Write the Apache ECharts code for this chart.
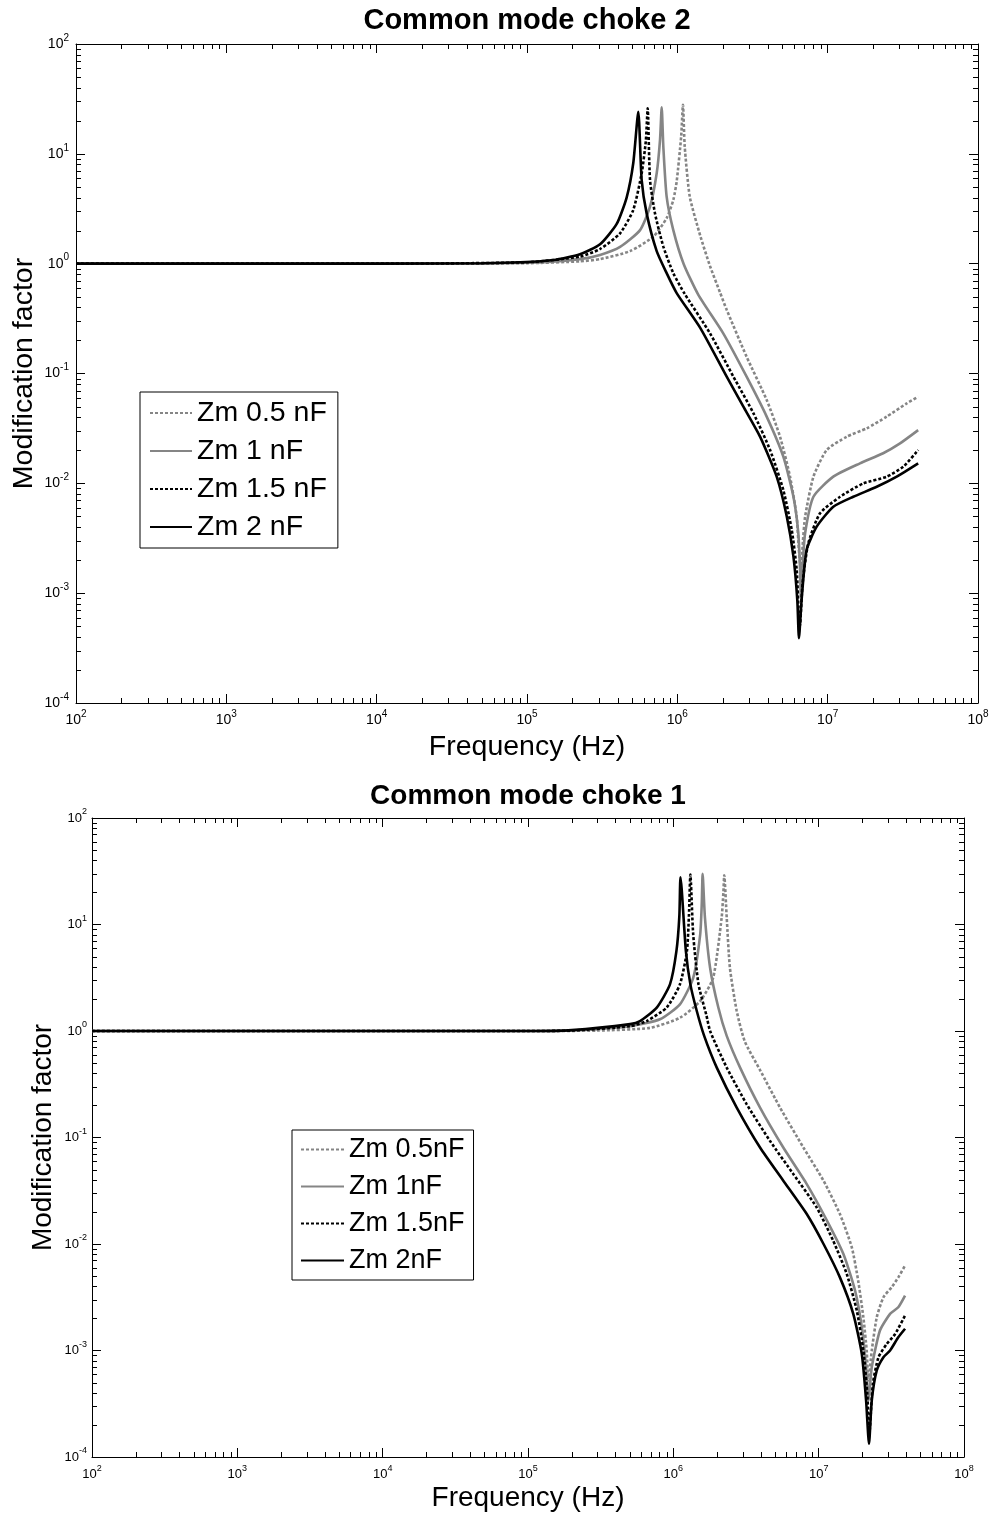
<!DOCTYPE html>
<html><head><meta charset="utf-8">
<script src="https://cdn.jsdelivr.net/npm/echarts@6/dist/echarts.min.js"></script>
<style>html,body{margin:0;padding:0;background:#fff}#c{width:992px;height:1516px}</style>
</head><body><div id="c"></div>
<script>
// ---------- DATA ----------
const titleTop = 'Common mode choke 2';
const titleBottom = 'Common mode choke 1';
const namesTop = ['Zm 0.5 nF', 'Zm 1 nF', 'Zm 1.5 nF', 'Zm 2 nF'];
const namesBottom = ['Zm 0.5nF', 'Zm 1nF', 'Zm 1.5nF', 'Zm 2nF'];
const xLabel = 'Frequency (Hz)';
const yLabel = 'Modification factor';

// Common mode choke 2 : [frequency Hz, modification factor]
const top05 = [[1e2,1],[1e3,1],[1e4,1],[1e5,1.01],[2.25e5,1.05],[3.06e5,1.1],[4.84e5,1.3],[6.92e5,1.76],[8.49e5,2.6],[9.4e5,3.8],[9.9e5,5.6],[1.06e6,14.3],[1.09e6,28],[1.12e6,11.6],[1.21e6,4.07],[1.42e6,1.8],[1.65e6,0.95],[1.92e6,0.55],[2.13e6,0.38],[2.89e6,0.142],[3.93e6,0.0574],[4.82e6,0.0266],[5.62e6,0.0115],[6.22e6,0.00497],[6.44e6,0.00247],[6.64e6,0.00163],[6.85e6,0.003],[7.08e6,0.00497],[8.04e6,0.0115],[9.86e6,0.0201],[1.34e7,0.0266],[1.82e7,0.0317],[2.47e7,0.0405],[3.36e7,0.0535],[4.0e7,0.0615]];
const top1 = [[1e2,1],[1e3,1],[1e4,1],[1e5,1.02],[2.25e5,1.1],[3.06e5,1.2],[4.16e5,1.42],[5.65e5,2.02],[6.58e5,3.3],[7.29e5,6.65],[7.67e5,13.4],[7.87e5,26.5],[8.07e5,11.6],[8.49e5,4.07],[9.4e5,2.02],[1.1e6,1.0],[1.38e6,0.52],[2.02e6,0.232],[2.89e6,0.0935],[3.93e6,0.0405],[5.07e6,0.0175],[5.92e6,0.00755],[6.38e6,0.00351],[6.55e6,0.00163],[6.64e6,0.0009],[6.8e6,0.0017],[7.08e6,0.00351],[8.04e6,0.00755],[1.09e7,0.0115],[1.64e7,0.0152],[2.34e7,0.0188],[3.03e7,0.0231],[4.0e7,0.0305]];
const top15 = [[1e2,1],[1e3,1],[1e4,1],[1e5,1.03],[2.25e5,1.16],[3.06e5,1.36],[4.16e5,1.89],[5.09e5,3.08],[5.79e5,6.65],[6.17e5,13],[6.35e5,26],[6.58e5,5.8],[7.1e5,2.87],[8.07e5,1.43],[9.4e5,0.82],[1.12e6,0.53],[1.65e6,0.232],[2.36e6,0.0935],[3.21e6,0.0434],[4.14e6,0.0201],[5.07e6,0.00869],[5.77e6,0.00376],[6.22e6,0.00163],[6.43e6,0.00061],[6.53e6,0.0005],[6.81e6,0.00123],[7.43e6,0.00284],[8.89e6,0.00533],[1.21e7,0.00755],[1.73e7,0.01],[2.47e7,0.0115],[3.19e7,0.0142],[4.0e7,0.0201]];
const top2 = [[1e2,1],[1e3,1],[1e4,1],[5e4,1.01],[9e4,1.03],[1.5e5,1.08],[2.25e5,1.22],[3.06e5,1.5],[3.95e5,2.3],[4.6e5,4.0],[5.09e5,8.2],[5.5e5,24.2],[5.79e5,5.8],[6.25e5,2.87],[7.29e5,1.3],[8.49e5,0.82],[9.9e5,0.54],[1.42e6,0.26],[2.13e6,0.0935],[2.75e6,0.0499],[3.55e6,0.0266],[4.58e6,0.0115],[5.35e6,0.00497],[5.92e6,0.00215],[6.28e6,0.00087],[6.44e6,0.00039],[6.71e6,0.00087],[7.24e6,0.00247],[8.45e6,0.00403],[1.09e7,0.00612],[1.48e7,0.00755],[2.12e7,0.0093],[2.88e7,0.0115],[4.0e7,0.0152]];

// Common mode choke 1
const bot05 = [[1e2,1],[1e3,1],[1e4,1],[1e5,1],[3e5,1.01],[6.9e5,1.07],[1.11e6,1.33],[1.53e6,1.91],[1.88e6,3.16],[2.15e6,11.6],[2.21e6,20],[2.24e6,29],[2.33e6,11.6],[2.45e6,3.93],[2.73e6,1.54],[3.1e6,0.8],[3.95e6,0.43],[5.42e6,0.191],[7.85e6,0.0805],[1.08e7,0.0393],[1.4e7,0.0191],[1.69e7,0.0093],[1.87e7,0.00453],[2.03e7,0.00205],[2.14e7,0.001],[2.2e7,0.000524],[2.32e7,0.001],[2.51e7,0.00205],[2.79e7,0.00316],[3.18e7,0.00393],[3.53e7,0.00486],[3.93e7,0.00627]];
const bot1 = [[1e2,1],[1e3,1],[1e4,1],[1e5,1],[2e5,1.01],[5.04e5,1.11],[8.09e5,1.29],[1.11e6,1.78],[1.37e6,3.16],[1.53e6,8.05],[1.57e6,16],[1.59e6,29.9],[1.65e6,11.6],[1.79e6,3.93],[2.04e6,1.66],[2.33e6,0.9],[2.88e6,0.453],[3.95e6,0.191],[5.71e6,0.0805],[8.28e6,0.0365],[1.14e7,0.0166],[1.48e7,0.00805],[1.78e7,0.00365],[1.98e7,0.00166],[2.12e7,0.000698],[2.2e7,0.00034],[2.32e7,0.000698],[2.64e7,0.00154],[3.1e7,0.00221],[3.53e7,0.00255],[3.93e7,0.00328]];
const bot15 = [[1e2,1],[1e3,1],[1e4,1],[1e5,1],[2e5,1.01],[5.04e5,1.11],[6.56e5,1.24],[9e5,1.66],[1.11e6,2.74],[1.24e6,5.62],[1.28e6,12],[1.31e6,29.4],[1.37e6,8.05],[1.49e6,2.74],[1.69e6,1.4],[1.79e6,1.0],[2.33e6,0.453],[3.2e6,0.205],[4.62e6,0.0931],[6.7e6,0.0453],[9.68e6,0.0221],[1.26e7,0.0107],[1.56e7,0.00524],[1.83e7,0.00237],[2.03e7,0.001],[2.16e7,0.000393],[2.23e7,0.000166],[2.36e7,0.000486],[2.58e7,0.000865],[2.94e7,0.00115],[3.36e7,0.00143],[3.93e7,0.00213]];
const bot2 = [[1e2,1],[1e3,1],[1e4,1],[1e5,1],[2e5,1.02],[5.04e5,1.16],[5.9e5,1.24],[7.69e5,1.66],[9.48e5,2.74],[1.05e6,5.62],[1.1e6,12],[1.12e6,27.8],[1.22e6,5.62],[1.31e6,2.74],[1.45e6,1.54],[1.63e6,0.9],[1.99e6,0.453],[2.73e6,0.191],[3.95e6,0.0805],[5.71e6,0.0393],[8.28e6,0.0191],[1.08e7,0.01],[1.4e7,0.00486],[1.73e7,0.00221],[1.98e7,0.000931],[2.12e7,0.00034],[2.22e7,0.000133],[2.32e7,0.00034],[2.51e7,0.000649],[2.79e7,0.000865],[3.1e7,0.001],[3.53e7,0.00133],[3.93e7,0.0016]];

const xMin = 1e2, xMax = 1e8, yMin = 1e-4, yMax = 1e2;

// ---------- BUILD ----------
const FONT = "'Liberation Sans', Arial, sans-serif";
const GRAY = '#858585';
const styles = [
  {color: GRAY, type: [3, 2], width: 2.6},
  {color: GRAY, type: 'solid', width: 2.6},
  {color: '#000', type: [3, 2], width: 2.6},
  {color: '#000', type: 'solid', width: 2.6}
];

function expLabel(v){
  const e = Math.round(Math.log10(v));
  return '{b|10}{s|' + e + '}';
}
function richFor(size){
  return {
    b: {fontSize: size, lineHeight: size + 8, fontFamily: FONT, color: '#000'},
    s: {fontSize: Math.round(size * 0.7), lineHeight: 10, verticalAlign: 'top', fontFamily: FONT, color: '#000'}
  };
}

// minor tick positions (axis decoration)
function minorTicks(lo, hi){
  const out = [];
  for (let k = Math.round(Math.log10(lo)); k < Math.round(Math.log10(hi)); k++)
    for (let m = 2; m <= 9; m++) out.push(m * Math.pow(10, k));
  return out;
}
const tickData = [];
minorTicks(xMin, xMax).forEach(v => tickData.push([v, 1, 0]));
minorTicks(yMin, yMax).forEach(v => tickData.push([1e3, v, 1]));

function tickSeries(gi){
  return {
    type: 'custom', name: 'ticks' + gi, xAxisIndex: gi * 2, yAxisIndex: gi * 2, silent: true,
    data: tickData, encode: {x: 0, y: 1}, clip: false, z: 5,
    renderItem: function(params, api){
      const cs = params.coordSys;
      const L = 5;
      const st = {stroke: '#000', lineWidth: 1};
      if (api.value(2) === 0){
        const px = Math.round(api.coord([api.value(0), 1])[0]) + 0.5;
        return {type: 'group', children: [
          {type: 'line', shape: {x1: px, y1: cs.y + cs.height, x2: px, y2: cs.y + cs.height - L}, style: st},
          {type: 'line', shape: {x1: px, y1: cs.y, x2: px, y2: cs.y + L}, style: st}
        ]};
      } else {
        const py = Math.round(api.coord([1e3, api.value(1)])[1]) + 0.5;
        return {type: 'group', children: [
          {type: 'line', shape: {x1: cs.x, y1: py, x2: cs.x + L, y2: py}, style: st},
          {type: 'line', shape: {x1: cs.x + cs.width, y1: py, x2: cs.x + cs.width - L, y2: py}, style: st}
        ]};
      }
    }
  };
}

function axesFor(gi, labelSize, xGap, yGap, xNameGap, yNameGap, nameSize){
  const base = {type: 'log', logBase: 10, gridIndex: gi, splitLine: {show: false},
    axisLine: {show: true, onZero: false, lineStyle: {color: '#000', width: 1}},
    axisTick: {show: true, inside: true, length: 9, lineStyle: {color: '#000'}}};
  const xs = [
    Object.assign({}, base, {min: xMin, max: xMax, position: 'bottom',
      name: xLabel, nameLocation: 'middle', nameGap: xNameGap, nameMoveOverlap: false,
      nameTextStyle: {fontSize: nameSize, fontFamily: FONT, color: '#000'},
      axisLabel: {show: true, margin: xGap, formatter: expLabel, rich: richFor(labelSize), showMinLabel: true, showMaxLabel: true}}),
    Object.assign({}, base, {min: xMin, max: xMax, position: 'top', axisLabel: {show: false}})
  ];
  const ys = [
    Object.assign({}, base, {min: yMin, max: yMax, position: 'left',
      name: yLabel, nameLocation: 'middle', nameGap: yNameGap, nameMoveOverlap: false,
      nameTextStyle: {fontSize: nameSize, fontFamily: FONT, color: '#000'},
      axisLabel: {show: true, margin: yGap, formatter: expLabel, rich: richFor(labelSize), showMinLabel: true, showMaxLabel: true}}),
    Object.assign({}, base, {min: yMin, max: yMax, position: 'right', axisLabel: {show: false}})
  ];
  return {xs, ys};
}

const a0 = axesFor(0, 14, 6, 7, 30, 37, 28.5);
const a1 = axesFor(1, 13, 7, 5, 27, 35, 28);

function lineSeries(names, datas, gi){
  return datas.map((d, i) => ({
    type: 'line', name: names[i], data: d, xAxisIndex: gi * 2, yAxisIndex: gi * 2,
    showSymbol: false, symbol: 'none', smooth: 0.2, z: 3 + i * 0.01,
    lineStyle: {color: styles[i].color, type: styles[i].type, width: styles[i].width, cap: 'butt'},
    itemStyle: {color: styles[i].color}
  }));
}

const option = {
  animation: false,
  backgroundColor: '#fff',
  grid: [
    {left: 76, top: 44, width: 902, height: 659, outerBoundsMode: 'none', containLabel: false},
    {left: 92, top: 818, width: 872, height: 639, outerBoundsMode: 'none', containLabel: false}
  ],
  xAxis: [...a0.xs, ...a1.xs],
  yAxis: [...a0.ys, ...a1.ys],
  legend: [
    {data: namesTop, orient: 'vertical', left: 140, top: 392, itemWidth: 42, itemHeight: 2, itemGap: 8,
      itemStyle: {opacity: 0, borderWidth: 0},
      padding: [6, 11, 6, 9], borderColor: '#000', borderWidth: 1, backgroundColor: '#fff',
      textStyle: {fontSize: 28.5, lineHeight: 30, fontFamily: FONT, color: '#000'}, selectedMode: false},
    {data: namesBottom, orient: 'vertical', left: 292, top: 1130, itemWidth: 43, itemHeight: 2, itemGap: 8,
      itemStyle: {opacity: 0, borderWidth: 0},
      padding: [5, 9, 5, 8], borderColor: '#000', borderWidth: 1, backgroundColor: '#fff',
      textStyle: {fontSize: 27, lineHeight: 29, fontFamily: FONT, color: '#000'}, selectedMode: false}
  ],
  graphic: [
    {type: 'text', x: 527, y: 21, style: {text: titleTop, align: 'center', verticalAlign: 'middle', font: 'bold 29px ' + FONT, fill: '#000'}},
    {type: 'text', x: 528, y: 796, style: {text: titleBottom, align: 'center', verticalAlign: 'middle', font: 'bold 28px ' + FONT, fill: '#000'}}
  ],
  series: [
    ...lineSeries(namesTop, [top05, top1, top15, top2], 0),
    ...lineSeries(namesBottom, [bot05, bot1, bot15, bot2], 1),
    tickSeries(0), tickSeries(1)
  ]
};
const chart = echarts.init(document.getElementById('c'), null, {renderer: 'canvas'});
chart.setOption(option);
</script></body></html>
